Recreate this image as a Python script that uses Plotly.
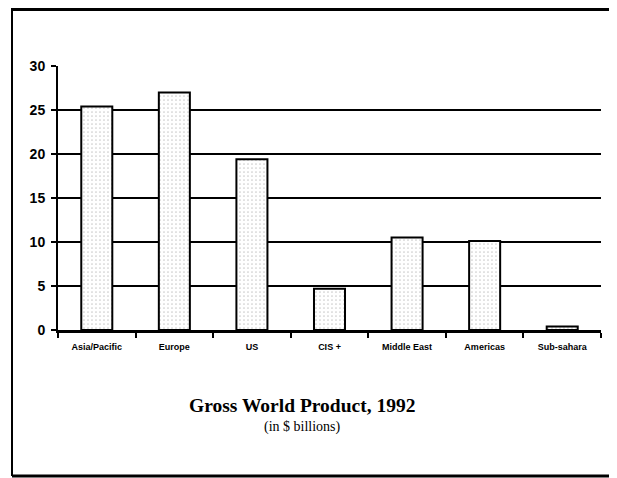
import plotly.graph_objects as go

categories = ["Asia/Pacific", "Europe", "US", "CIS +", "Middle East", "Americas", "Sub-sahara"]
values = [25.4, 27.0, 19.4, 4.7, 10.5, 10.1, 0.4]
y_ticks = [0, 5, 10, 15, 20, 25, 30]
title_text = "Gross World Product, 1992"
subtitle_text = "(in $ billions)"

fig = go.Figure()
fig.add_trace(go.Bar(
    x=categories, y=values, width=0.4,
    marker=dict(
        color="white",
        line=dict(color="black", width=2),
        pattern=dict(shape=".", fgcolor="#9a9a9a", bgcolor="white", size=4, solidity=0.15),
    ),
    hoverinfo="skip",
))

# page body has an 8px margin, so figure coords = screen coords - 8
W, H = 609, 470
L, R, T, B = 50, 16, 58, 148
pw, ph = W - L - R, H - T - B

def px(x):
    return (x - L) / pw

def py(y):
    return (H - B - y) / ph

frame = dict(color="black", width=3)
fig.update_layout(
    width=W, height=H,
    margin=dict(l=L, r=R, t=T, b=B),
    paper_bgcolor="white", plot_bgcolor="white",
    showlegend=False,
    xaxis=dict(
        showline=True, linecolor="black", linewidth=2.5,
        ticks="outside", ticklen=5, tickwidth=2, tickcolor="black",
        tickson="boundaries", showgrid=False,
        tickfont=dict(family="Liberation Sans", size=9, color="black", weight="bold"),
        ticklabelstandoff=6,
        range=[-0.5, 6.5],
    ),
    yaxis=dict(
        range=[0, 30], tickvals=y_ticks,
        showline=True, linecolor="black", linewidth=2,
        showgrid=True, gridcolor="black", gridwidth=2,
        zeroline=False,
        ticks="outside", ticklen=5, tickwidth=2, tickcolor="black",
        ticklabelstandoff=3,
        tickfont=dict(family="Liberation Sans", size=14, color="black", weight="bold"),
    ),
    shapes=[
        dict(type="line", xref="paper", yref="paper", x0=px(4), x1=px(4), y0=py(468), y1=py(0),
             line=dict(color="black", width=2)),
        dict(type="line", xref="paper", yref="paper", x0=px(4), x1=px(W + 10), y0=py(1.5), y1=py(1.5),
             line=frame),
        dict(type="line", xref="paper", yref="paper", x0=px(4), x1=px(W + 10), y0=py(468), y1=py(468),
             line=frame),
    ],
    annotations=[
        dict(text=title_text, xref="paper", yref="paper", x=px(294), y=py(397),
             xanchor="center", yanchor="middle", showarrow=False,
             font=dict(family="Liberation Serif", size=19.5, color="black", weight="bold")),
        dict(text=subtitle_text, xref="paper", yref="paper", x=px(294), y=py(419),
             xanchor="center", yanchor="middle", showarrow=False,
             font=dict(family="Liberation Serif", size=14, color="black")),
    ],
)

fig.write_html("out.html")
